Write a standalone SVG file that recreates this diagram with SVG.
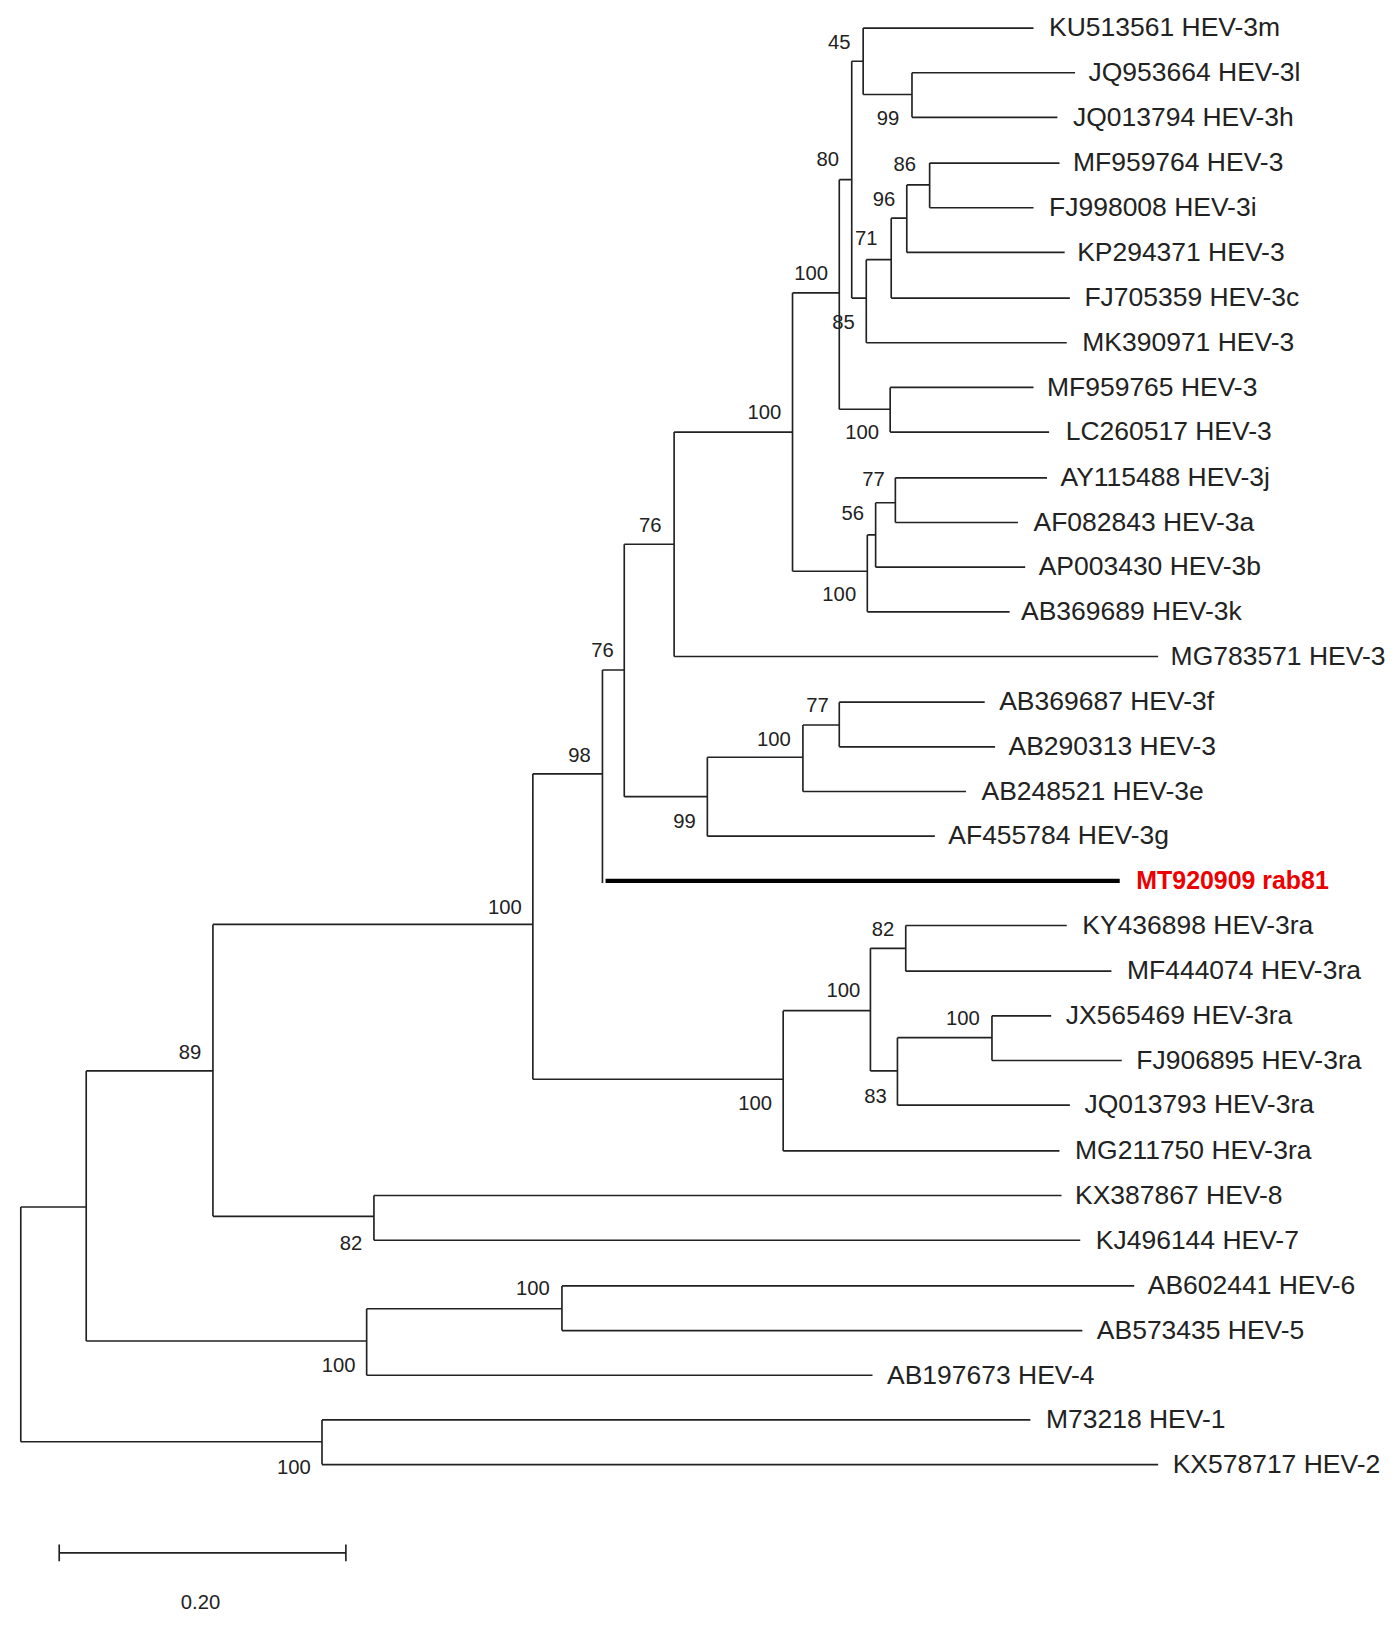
<svg xmlns="http://www.w3.org/2000/svg" width="1396" height="1630" viewBox="0 0 1396 1630">
<style>
.e{stroke:#222;stroke-width:1.6;fill:none}
.t{font-family:"Liberation Sans",Arial,sans-serif;font-size:25.5px;fill:#222}
.b{font-family:"Liberation Sans",Arial,sans-serif;font-size:19.5px;fill:#222;text-anchor:middle}
.r{fill:#e00;font-weight:bold;font-size:24px}
</style>
<rect width="1396" height="1630" fill="#fff"/>
<g transform="scale(1.0387)">
<g id="connectors">
<path class="e" d="M20 1162V1388M20 1162H83M20 1388H310M310 1367V1410M310 1367H992M310 1410H1115
M83 1031V1291M83 1031H205M83 1291H353M353 1260V1324M353 1260H541M353 1324H840M541 1238V1281M541 1238H1092M541 1281H1042
M205 890V1171M205 890H513M205 1171H360M360 1151V1194M360 1151H1022M360 1194H1040
M513 745V1039M513 745H580M513 1039H754M754 973V1108M754 973H838M754 1108H1020M838 913V1031M838 913H872M838 1031H864M872 891V935M872 891H1027M872 935H1070M864 999V1064M864 999H955M864 1064H1030M955 978V1021M955 978H1012M955 1021H1080
M580 645V850M580 645H601M601 524V767M601 524H649M601 767H681M681 729V805M681 729H773M681 805H900M773 698V762M773 698H808M773 762H930M808 676V719M808 676H948M808 719H958
M649 416V632M649 416H763M649 632H1115M763 282V550M763 282H808M763 550H835
M808 173V394M808 173H820M808 394H857M857 373V416M857 373H995M857 416H1010
M820 59V287M820 59H831M820 287H834M831 27V91M831 27H995M831 91H878M878 70V113M878 70H1035M878 113H1018
M834 250V330M834 250H858M834 330H1027M858 210V287M858 210H873M858 287H1030M873 178V243M873 178H895M873 243H1025M895 157V200M895 157H1020M895 200H995
M835 515V589M835 515H843M835 589H972M843 484V546M843 484H862M843 546H987M862 460V503M862 460H1008M862 503H980
M57 1495H333M57 1487V1503M333 1487V1503"/>
<path d="M583 848H1078" stroke="#000" stroke-width="4"/>
</g>
<g id="tips">
<text class="t" x="1010" y="35">KU513561 HEV-3m</text>
<text class="t" x="1048" y="78">JQ953664 HEV-3l</text>
<text class="t" x="1033" y="121">JQ013794 HEV-3h</text>
<text class="t" x="1033" y="165">MF959764 HEV-3</text>
<text class="t" x="1010" y="208">FJ998008 HEV-3i</text>
<text class="t" x="1037" y="251">KP294371 HEV-3</text>
<text class="t" x="1044" y="295">FJ705359 HEV-3c</text>
<text class="t" x="1042" y="338">MK390971 HEV-3</text>
<text class="t" x="1008" y="381">MF959765 HEV-3</text>
<text class="t" x="1026" y="424">LC260517 HEV-3</text>
<text class="t" x="1021" y="468">AY115488 HEV-3j</text>
<text class="t" x="995" y="511">AF082843 HEV-3a</text>
<text class="t" x="1000" y="554">AP003430 HEV-3b</text>
<text class="t" x="983" y="597">AB369689 HEV-3k</text>
<text class="t" x="1127" y="640">MG783571 HEV-3</text>
<text class="t" x="962" y="684">AB369687 HEV-3f</text>
<text class="t" x="971" y="727">AB290313 HEV-3</text>
<text class="t" x="945" y="770">AB248521 HEV-3e</text>
<text class="t" x="913" y="813">AF455784 HEV-3g</text>
<text class="t r" x="1094" y="856">MT920909 rab81</text>
<text class="t" x="1042" y="899">KY436898 HEV-3ra</text>
<text class="t" x="1085" y="943">MF444074 HEV-3ra</text>
<text class="t" x="1026" y="986">JX565469 HEV-3ra</text>
<text class="t" x="1094" y="1029">FJ906895 HEV-3ra</text>
<text class="t" x="1044" y="1072">JQ013793 HEV-3ra</text>
<text class="t" x="1035" y="1116">MG211750 HEV-3ra</text>
<text class="t" x="1035" y="1159">KX387867 HEV-8</text>
<text class="t" x="1055" y="1202">KJ496144 HEV-7</text>
<text class="t" x="1105" y="1246">AB602441 HEV-6</text>
<text class="t" x="1056" y="1289">AB573435 HEV-5</text>
<text class="t" x="854" y="1332">AB197673 HEV-4</text>
<text class="t" x="1007" y="1375">M73218 HEV-1</text>
<text class="t" x="1129" y="1418">KX578717 HEV-2</text>
</g>
<g id="bootstrap">
<text class="b" x="808" y="47">45</text>
<text class="b" x="855" y="120">99</text>
<text class="b" x="797" y="160">80</text>
<text class="b" x="871" y="165">86</text>
<text class="b" x="851" y="198">96</text>
<text class="b" x="834" y="236">71</text>
<text class="b" x="781" y="270">100</text>
<text class="b" x="812" y="317">85</text>
<text class="b" x="736" y="403">100</text>
<text class="b" x="830" y="423">100</text>
<text class="b" x="841" y="468">77</text>
<text class="b" x="821" y="501">56</text>
<text class="b" x="808" y="579">100</text>
<text class="b" x="626" y="512">76</text>
<text class="b" x="580" y="633">76</text>
<text class="b" x="787" y="685">77</text>
<text class="b" x="745" y="718">100</text>
<text class="b" x="659" y="797">99</text>
<text class="b" x="558" y="734">98</text>
<text class="b" x="486" y="880">100</text>
<text class="b" x="850" y="901">82</text>
<text class="b" x="812" y="960">100</text>
<text class="b" x="927" y="987">100</text>
<text class="b" x="843" y="1062">83</text>
<text class="b" x="727" y="1069">100</text>
<text class="b" x="338" y="1203">82</text>
<text class="b" x="183" y="1020">89</text>
<text class="b" x="513" y="1247">100</text>
<text class="b" x="326" y="1321">100</text>
<text class="b" x="283" y="1419">100</text>
<text class="b" x="193" y="1549">0.20</text>
</g>
</g>
</svg>
